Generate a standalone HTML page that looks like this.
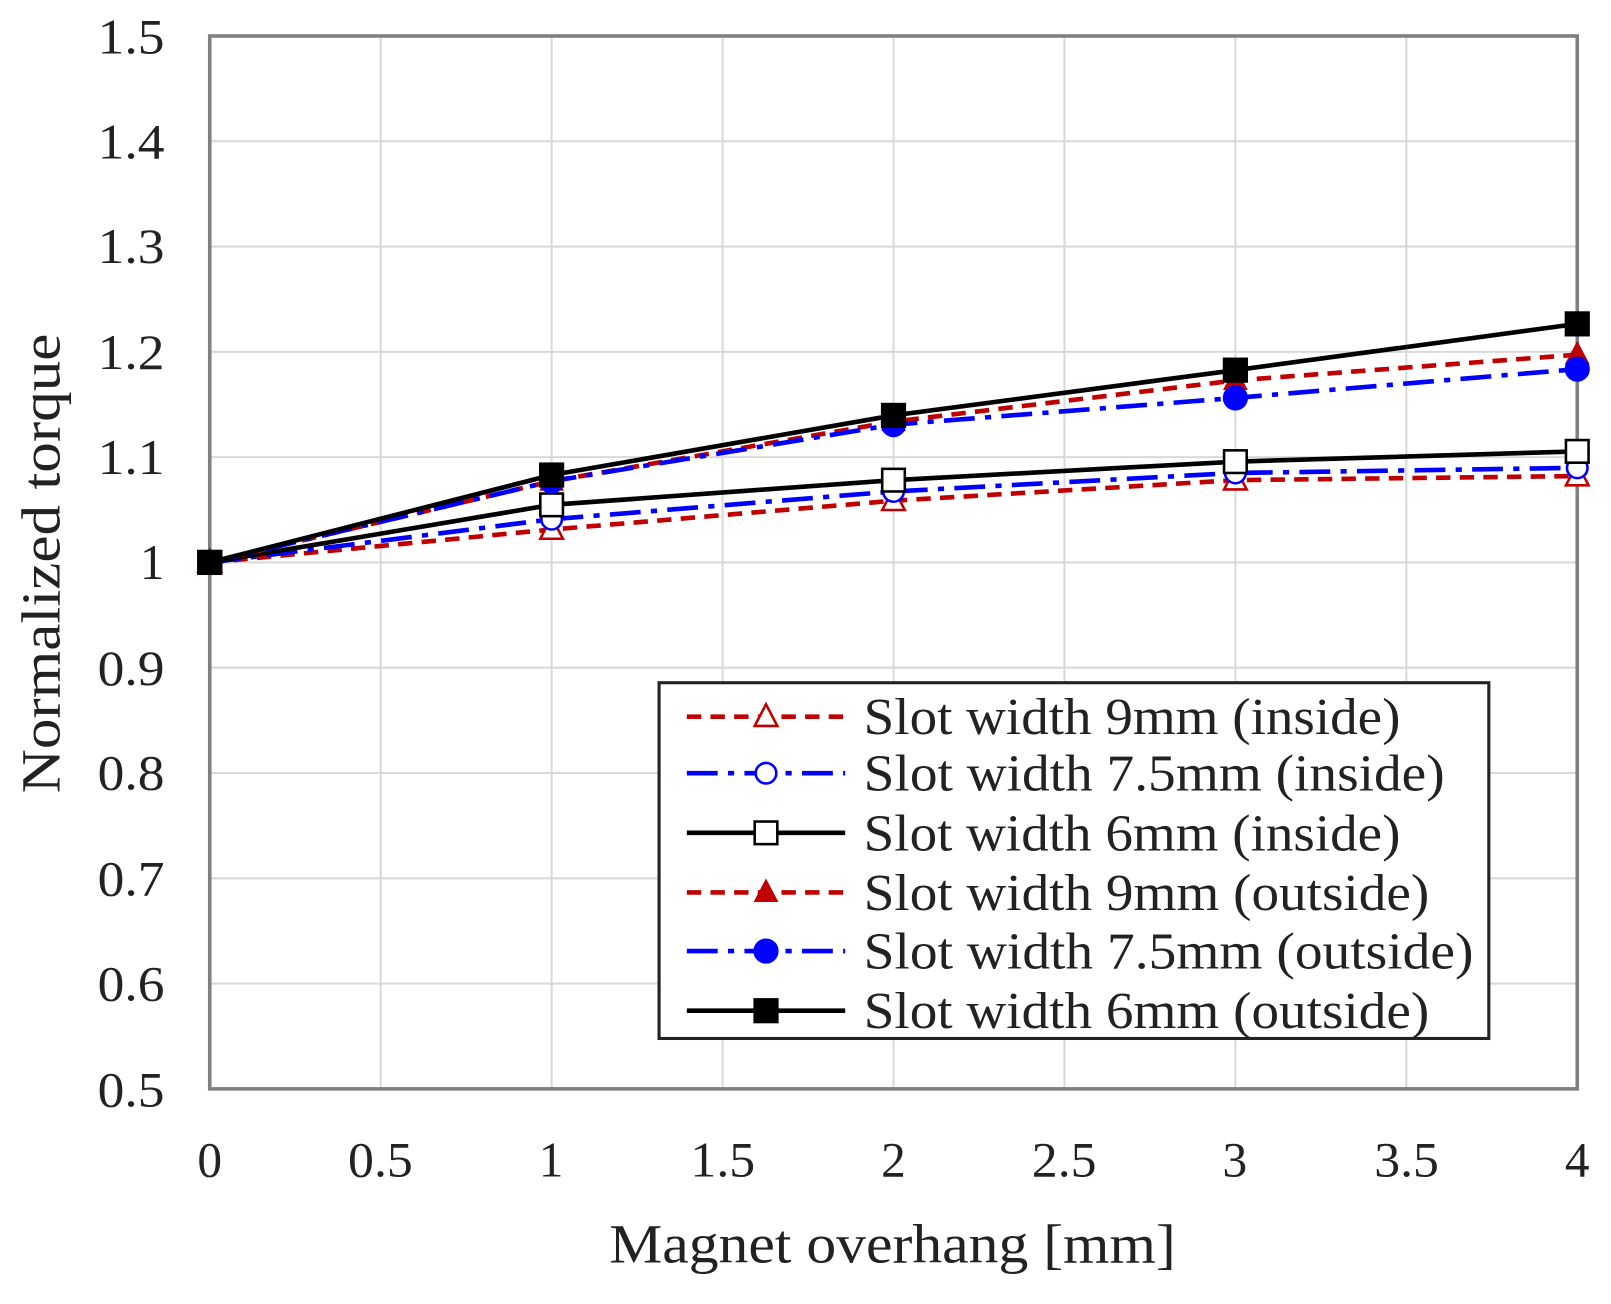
<!DOCTYPE html>
<html><head><meta charset="utf-8"><style>
body{margin:0;background:#fff}
text{font-family:"Liberation Serif",serif;fill:#222}
</style></head><body>
<svg width="1611" height="1299" viewBox="0 0 1611 1299" xmlns="http://www.w3.org/2000/svg">
<g transform="scale(1.0282)">
<g stroke="#d9d9d9" stroke-width="2">
<line x1="204" y1="137.4" x2="1534" y2="137.4"/><line x1="204" y1="239.8" x2="1534" y2="239.8"/>
<line x1="204" y1="342.2" x2="1534" y2="342.2"/><line x1="204" y1="444.6" x2="1534" y2="444.6"/>
<line x1="204" y1="547" x2="1534" y2="547"/><line x1="204" y1="649.4" x2="1534" y2="649.4"/>
<line x1="204" y1="751.8" x2="1534" y2="751.8"/><line x1="204" y1="854.2" x2="1534" y2="854.2"/>
<line x1="204" y1="956.6" x2="1534" y2="956.6"/>
<line x1="370.25" y1="35" x2="370.25" y2="1059"/><line x1="536.5" y1="35" x2="536.5" y2="1059"/>
<line x1="702.75" y1="35" x2="702.75" y2="1059"/><line x1="869" y1="35" x2="869" y2="1059"/>
<line x1="1035.25" y1="35" x2="1035.25" y2="1059"/><line x1="1201.5" y1="35" x2="1201.5" y2="1059"/>
<line x1="1367.75" y1="35" x2="1367.75" y2="1059"/>
</g>
<rect x="204" y="35" width="1330" height="1024" fill="none" stroke="#808080" stroke-width="3.5"/>
<g font-size="48" text-anchor="end">
<text x="160" y="52" textLength="65" lengthAdjust="spacingAndGlyphs">1.5</text><text x="160" y="154" textLength="65" lengthAdjust="spacingAndGlyphs">1.4</text><text x="160" y="256" textLength="65" lengthAdjust="spacingAndGlyphs">1.3</text>
<text x="160" y="359" textLength="65" lengthAdjust="spacingAndGlyphs">1.2</text><text x="160" y="461" textLength="65" lengthAdjust="spacingAndGlyphs">1.1</text><text x="160" y="563">1</text>
<text x="160" y="666" textLength="65" lengthAdjust="spacingAndGlyphs">0.9</text><text x="160" y="768" textLength="65" lengthAdjust="spacingAndGlyphs">0.8</text><text x="160" y="871" textLength="65" lengthAdjust="spacingAndGlyphs">0.7</text>
<text x="160" y="973" textLength="65" lengthAdjust="spacingAndGlyphs">0.6</text><text x="160" y="1076" textLength="65" lengthAdjust="spacingAndGlyphs">0.5</text>
</g>
<g font-size="48" text-anchor="middle">
<text x="204" y="1144">0</text><text x="370" y="1144" textLength="63" lengthAdjust="spacingAndGlyphs">0.5</text><text x="536" y="1144">1</text>
<text x="703" y="1144" textLength="63" lengthAdjust="spacingAndGlyphs">1.5</text><text x="869" y="1144">2</text><text x="1035" y="1144" textLength="63" lengthAdjust="spacingAndGlyphs">2.5</text>
<text x="1201" y="1144">3</text><text x="1368" y="1144" textLength="63" lengthAdjust="spacingAndGlyphs">3.5</text><text x="1534" y="1144">4</text>
<text x="868" y="1228" font-size="54" textLength="551" lengthAdjust="spacingAndGlyphs">Magnet overhang [mm]</text>
<text transform="translate(58,548) rotate(-90)" font-size="54" textLength="447" lengthAdjust="spacingAndGlyphs">Normalized  torque</text>
</g>
<g fill="none" stroke-width="4.5">
<polyline stroke="#c00000" stroke-dasharray="14,9" points="204,547 536.5,515 869,487 1201.5,467 1534,463"/>
<polyline stroke="#0000ff" stroke-dasharray="30,10,6,10" points="204,547 536.5,505 869,478 1201.5,460 1534,455"/>
<polyline stroke="#000" points="204,547 536.5,491 869,467 1201.5,449 1534,439"/>
<polyline stroke="#c00000" stroke-dasharray="14,9" points="204,547 536.5,468 869,410 1201.5,370 1534,345"/>
<polyline stroke="#0000ff" stroke-dasharray="30,10,6,10" points="204,547 536.5,468 869,413 1201.5,387 1534,359"/>
<polyline stroke="#000" points="204,547 536.5,462 869,404 1201.5,360 1534,315"/>
</g>
<g stroke-width="2.5">
<g fill="#fff" stroke="#c00000"><polygon points="204,535 215,556 193,556"/><polygon points="536.5,503 547.5,524 525.5,524"/><polygon points="869,475 880,496 858,496"/><polygon points="1201.5,455 1212.5,476 1190.5,476"/><polygon points="1534,451 1545,472 1523,472"/></g>
<g fill="#fff" stroke="#0000ff"><circle cx="204" cy="547" r="10"/><circle cx="536.5" cy="505" r="10"/><circle cx="869" cy="478" r="10"/><circle cx="1201.5" cy="460" r="10"/><circle cx="1534" cy="455" r="10"/></g>
<g fill="#fff" stroke="#000"><rect x="193" y="536" width="22" height="22"/><rect x="525.5" y="480" width="22" height="22"/><rect x="858" y="456" width="22" height="22"/><rect x="1190.5" y="438" width="22" height="22"/><rect x="1523" y="428" width="22" height="22"/></g>
<g fill="#c00000" stroke="#c00000"><polygon points="204,536 214,555 194,555"/><polygon points="536.5,457 546.5,476 526.5,476"/><polygon points="869,399 879,418 859,418"/><polygon points="1201.5,359 1211.5,378 1191.5,378"/><polygon points="1534,334 1544,353 1524,353"/></g>
<g fill="#0000ff" stroke="#0000ff"><circle cx="204" cy="547" r="11"/><circle cx="536.5" cy="468" r="11"/><circle cx="869" cy="413" r="11"/><circle cx="1201.5" cy="387" r="11"/><circle cx="1534" cy="359" r="11"/></g>
<g fill="#000" stroke="#000"><rect x="193" y="536" width="22" height="22"/><rect x="525.5" y="451" width="22" height="22"/><rect x="858" y="393" width="22" height="22"/><rect x="1190.5" y="349" width="22" height="22"/><rect x="1523" y="304" width="22" height="22"/></g>
</g>
<rect x="641" y="664" width="807" height="346" fill="#fff" stroke="#222" stroke-width="3"/>
<g fill="none" stroke-width="4.5">
<line x1="668" y1="697" x2="822" y2="697" stroke="#c00000" stroke-dasharray="14,9"/>
<line x1="668" y1="752" x2="822" y2="752" stroke="#0000ff" stroke-dasharray="30,10,6,10"/>
<line x1="668" y1="810" x2="822" y2="810" stroke="#000"/>
<line x1="668" y1="868" x2="822" y2="868" stroke="#c00000" stroke-dasharray="14,9"/>
<line x1="668" y1="925" x2="822" y2="925" stroke="#0000ff" stroke-dasharray="30,10,6,10"/>
<line x1="668" y1="983" x2="822" y2="983" stroke="#000"/>
</g>
<g stroke-width="2.5">
<polygon points="745,685 756,706 734,706" fill="#fff" stroke="#c00000"/>
<circle cx="745" cy="752" r="10" fill="#fff" stroke="#0000ff"/>
<rect x="734" y="799" width="22" height="22" fill="#fff" stroke="#000"/>
<polygon points="745,857 755,876 735,876" fill="#c00000" stroke="#c00000"/>
<circle cx="745" cy="925" r="11" fill="#0000ff" stroke="#0000ff"/>
<rect x="734" y="972" width="22" height="22" fill="#000" stroke="#000"/>
</g>
<g font-size="50" lengthAdjust="spacingAndGlyphs">
<text x="840" y="714" textLength="522" lengthAdjust="spacingAndGlyphs">Slot width 9mm (inside)</text>
<text x="840" y="769" textLength="565" lengthAdjust="spacingAndGlyphs">Slot width 7.5mm (inside)</text>
<text x="840" y="827" textLength="522" lengthAdjust="spacingAndGlyphs">Slot width 6mm (inside)</text>
<text x="840" y="885" textLength="550" lengthAdjust="spacingAndGlyphs">Slot width 9mm (outside)</text>
<text x="840" y="942" textLength="593" lengthAdjust="spacingAndGlyphs">Slot width 7.5mm (outside)</text>
<text x="840" y="1000" textLength="550" lengthAdjust="spacingAndGlyphs">Slot width 6mm (outside)</text>
</g>
</g>
</svg>
</body></html>
